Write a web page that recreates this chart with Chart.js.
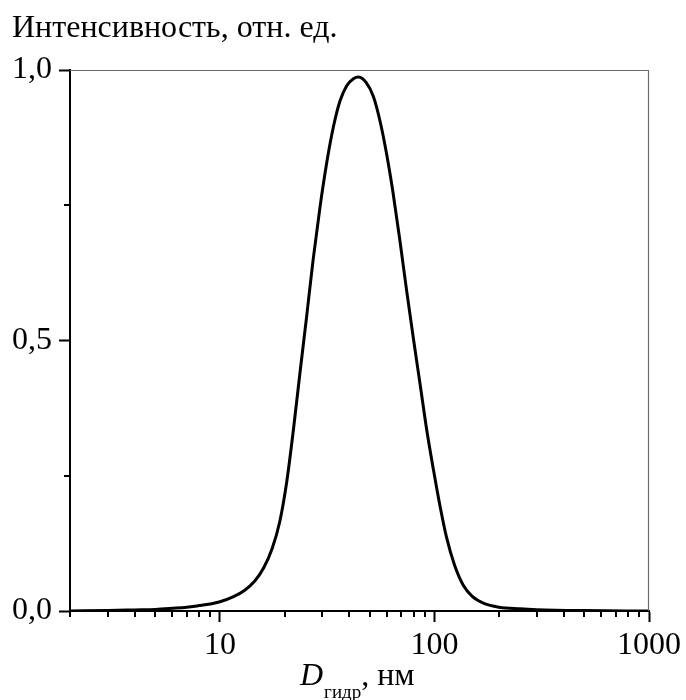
<!DOCTYPE html>
<html>
<head>
<meta charset="utf-8">
<title>Интенсивность</title>
<script src="https://cdn.jsdelivr.net/npm/chart.js@4.4.1/dist/chart.umd.min.js"></script>
<style>
    html, body { margin: 0; padding: 0; background: #fff; }
    #wrap { width: 686px; height: 700px; position: relative; }
</style>
</head>
<body>
<div id="wrap"><canvas id="sizeChart" width="686" height="700"></canvas></div>
<script>
// Hydrodynamic diameter, nm (log axis)
const diameters = [2, 3, 4, 5, 6, 7, 8, 9, 10, 11.5, 13, 14.5, 16, 17.5, 19, 20.5, 22, 23.6, 25.4, 27.2,
    29.3, 31.5, 33.8, 36.3, 39, 41.9, 44.2, 48, 52, 56, 60, 64, 69, 74, 80, 86, 92, 99, 106, 114, 124,
    136, 150, 170, 200, 250, 300, 500, 1000];
// Relative intensity
const intensity = [0, 0.0008, 0.002, 0.003, 0.005, 0.007, 0.01, 0.013, 0.017, 0.026, 0.038, 0.055, 0.08, 0.115, 0.165, 0.24, 0.335, 0.44, 0.547, 0.65,
    0.748, 0.83, 0.895, 0.943, 0.971, 0.984, 0.987, 0.977, 0.95, 0.902, 0.842, 0.775, 0.685, 0.595, 0.5, 0.415, 0.335, 0.26, 0.195, 0.135, 0.085,
    0.048, 0.027, 0.014, 0.007, 0.004, 0.0025, 0.0008, 0];

const xMajorTicks = [10, 100, 1000];
const xMinorTicks = [2, 3, 4, 5, 6, 7, 8, 9, 20, 30, 40, 50, 60, 70, 80, 90, 200, 300, 400, 500, 600, 700, 800, 900];
const yMajorTicks = [0, 0.5, 1.0];
const yMinorTicks = [0.25, 0.75];

const yTitle = 'Интенсивность, отн. ед.';
const xTitleMain = 'D';
const xTitleSub = 'гидр';
const xTitleUnit = ', нм';

const serif = '"Liberation Serif", "Times New Roman", serif';

/**
 * Frame, minor ticks and titles drawn on top of the chart
 */
const decorPlugin = {
    id: 'decor',
    afterDraw(chart) {
        const ctx = chart.ctx;
        const area = chart.chartArea;
        const xs = chart.scales.x;
        const ys = chart.scales.y;
        ctx.save();

        // thin grey top and right frame
        ctx.strokeStyle = '#6a6a6a';
        ctx.lineWidth = 1.2;
        ctx.beginPath();
        ctx.moveTo(area.left, area.top + 0.5);
        ctx.lineTo(area.right - 0.5, area.top + 0.5);
        ctx.lineTo(area.right - 0.5, area.bottom);
        ctx.stroke();

        // minor ticks
        ctx.strokeStyle = '#000';
        ctx.lineWidth = 2;
        ctx.beginPath();
        xMinorTicks.forEach(v => {
            const px = Math.round(xs.getPixelForValue(v));
            ctx.moveTo(px, area.bottom);
            ctx.lineTo(px, area.bottom + 6);
        });
        yMinorTicks.forEach(v => {
            const py = Math.round(ys.getPixelForValue(v));
            ctx.moveTo(area.left, py);
            ctx.lineTo(area.left - 6, py);
        });
        ctx.stroke();

        // y title
        ctx.fillStyle = '#000';
        ctx.textBaseline = 'alphabetic';
        ctx.textAlign = 'left';
        ctx.font = '32px ' + serif;
        ctx.fillText(yTitle, 12, 37);

        // x title with subscript
        let x = 300;
        const base = 685;
        ctx.font = 'italic 32px ' + serif;
        ctx.fillText(xTitleMain, x, base);
        x += ctx.measureText(xTitleMain).width + 1;
        ctx.font = '19px ' + serif;
        ctx.fillText(xTitleSub, x, base + 13);
        x += ctx.measureText(xTitleSub).width;
        ctx.font = '32px ' + serif;
        ctx.fillText(xTitleUnit, x, base);

        ctx.restore();
    }
};

document.addEventListener('DOMContentLoaded', function() {
    const canvas = document.getElementById('sizeChart');

    new Chart(canvas, {
        type: 'line',
        data: {
            datasets: [{
                data: diameters.map((d, i) => ({ x: d, y: intensity[i] })),
                borderColor: '#000',
                borderWidth: 3,
                pointRadius: 0,
                fill: false,
                cubicInterpolationMode: 'monotone'
            }]
        },
        options: {
            responsive: false,
            animation: false,
            devicePixelRatio: 1,
            layout: {
                padding: { left: 0, top: 70, right: 37, bottom: 0 }
            },
            scales: {
                x: {
                    type: 'logarithmic',
                    min: 2,
                    max: 1000,
                    afterBuildTicks: function(scale) {
                        scale.ticks = xMajorTicks.map(v => ({ value: v, major: true }));
                    },
                    afterFit: function(scale) {
                        scale.height = 89;
                    },
                    ticks: {
                        autoSkip: false,
                        maxRotation: 0,
                        padding: 4,
                        color: '#000',
                        font: { family: serif, size: 32 },
                        callback: function(value) {
                            return String(value);
                        }
                    },
                    grid: {
                        drawOnChartArea: false,
                        drawTicks: true,
                        tickLength: 11,
                        tickWidth: 2,
                        tickColor: '#000'
                    },
                    border: { display: true, color: '#000', width: 2 }
                },
                y: {
                    type: 'linear',
                    min: 0,
                    max: 1,
                    afterBuildTicks: function(scale) {
                        scale.ticks = yMajorTicks.map(v => ({ value: v, major: true }));
                    },
                    afterFit: function(scale) {
                        scale.width = 70;
                    },
                    ticks: {
                        padding: 7,
                        color: '#000',
                        font: { family: serif, size: 32 },
                        callback: function(value) {
                            return value.toFixed(1).replace('.', ',');
                        }
                    },
                    grid: {
                        drawOnChartArea: false,
                        drawTicks: true,
                        tickLength: 11,
                        tickWidth: 2,
                        tickColor: '#000'
                    },
                    border: { display: true, color: '#000', width: 2 }
                }
            },
            plugins: {
                legend: { display: false },
                title: { display: false },
                tooltip: { enabled: false }
            }
        },
        plugins: [decorPlugin]
    });
});
</script>
</body>
</html>
